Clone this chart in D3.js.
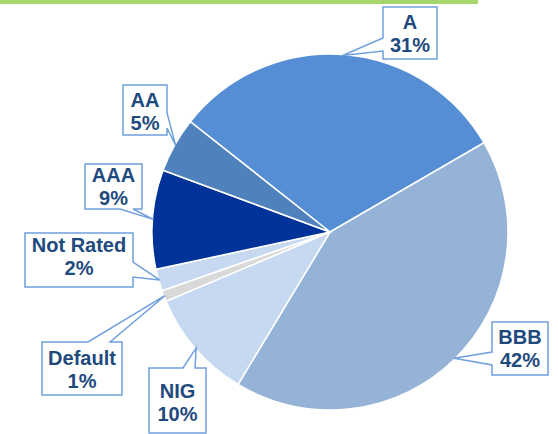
<!DOCTYPE html>
<html>
<head>
<title>Rating breakdown</title>
<script src="https://d3js.org/d3.v7.min.js"></script>
<style>
  body { margin: 0; background: #fff; }
  svg { display: block; }
  .lbl { font-family: "Liberation Sans", Arial, sans-serif; font-weight: bold; font-size: 20px; fill: #1f4a7e; }
</style>
</head>
<body>
<script>

// data (clockwise, starting with A)
var ratings = ['A', 'BBB', 'NIG', 'Default', 'Not Rated', 'AAA', 'AA'];
var shares = [31, 42, 10, 1, 2, 9, 5];
var colors = ['#558ed5', '#95b3d7', '#c6d9f1', '#d9d9d9', '#c6d9f1', '#003399', '#4f81bd'];

// callout boxes: [x0, y0, x1, y1], which side the wedge leaves from, wedge base, first baseline
var callouts = [
  {box: [383, 7, 437, 59],   side: 'left',   base: [38, 51],   ty: 29},
  {box: [492, 322, 548, 375], side: 'left',  base: [352, 365], ty: 344},
  {box: [149, 368, 206, 433], side: 'top',   base: [183, 195], ty: 398},
  {box: [42, 342, 122, 395], side: 'top',    base: [88, 110],  ty: 365},
  {box: [25, 233, 133, 287], side: 'right',  base: [262, 277], ty: 252},
  {box: [85, 164, 142, 209], side: 'bottom', base: [120, 133], ty: 182},
  {box: [123, 85, 167, 135], side: 'right',  base: [113, 128], ty: 107}
];

var W = 558, H = 434;
var cx = 330, cy = 232, R = 178;
var start = -51.7 * Math.PI / 180;

var svg = d3.select('body').append('svg').attr('width', W).attr('height', H);

// green rule along the top
svg.append('rect').attr('x', 0).attr('y', 0).attr('width', 478).attr('height', 4).attr('fill', '#a5d76c');

var pie = d3.pie().sort(null).value(function(d){ return d; })
  .startAngle(start).endAngle(start + 2 * Math.PI);
var arcs = pie(shares);

var arc = d3.arc().innerRadius(0).outerRadius(R);

var g = svg.append('g').attr('transform', 'translate(' + cx + ',' + cy + ')');
g.selectAll('path.slice')
  .data(arcs)
  .enter().append('path')
  .attr('class', 'slice')
  .attr('d', arc)
  .attr('fill', function(d, i){ return colors[i]; })
  .attr('stroke', '#fff')
  .attr('stroke-width', 1.5);

// wedge callouts
function calloutPath(c, tip) {
  var x0 = c.box[0], y0 = c.box[1], x1 = c.box[2], y1 = c.box[3];
  var b = c.base, t = tip[0] + ',' + tip[1];
  var p;
  if (c.side == 'left') {
    p = 'M' + x0 + ',' + y0 + 'H' + x1 + 'V' + y1 + 'H' + x0 + 'V' + b[1] + 'L' + t + 'L' + x0 + ',' + b[0] + 'Z';
  } else if (c.side == 'right') {
    p = 'M' + x0 + ',' + y0 + 'H' + x1 + 'V' + b[0] + 'L' + t + 'L' + x1 + ',' + b[1] + 'V' + y1 + 'H' + x0 + 'Z';
  } else if (c.side == 'top') {
    p = 'M' + x0 + ',' + y0 + 'H' + b[0] + 'L' + t + 'L' + b[1] + ',' + y0 + 'H' + x1 + 'V' + y1 + 'H' + x0 + 'Z';
  } else {
    p = 'M' + x0 + ',' + y0 + 'H' + x1 + 'V' + y1 + 'H' + b[1] + 'L' + t + 'L' + b[0] + ',' + y1 + 'H' + x0 + 'Z';
  }
  return p;
}

arcs.forEach(function(d, i){
  var c = callouts[i];
  var mid = (d.startAngle + d.endAngle) / 2;
  var tip = [cx + (R - 1) * Math.sin(mid), cy - (R - 1) * Math.cos(mid)];
  svg.append('path')
    .attr('d', calloutPath(c, tip))
    .attr('fill', '#fff')
    .attr('stroke', '#6fa0dc')
    .attr('stroke-width', 1.5)
    .attr('stroke-linejoin', 'miter');
  var mx = (c.box[0] + c.box[2]) / 2;
  var t = svg.append('text').attr('class', 'lbl').attr('text-anchor', 'middle');
  t.append('tspan').attr('x', mx).attr('y', c.ty).text(ratings[i]);
  t.append('tspan').attr('x', mx).attr('y', c.ty + 23).text(shares[i] + '%');
});

</script>
</body>
</html>
